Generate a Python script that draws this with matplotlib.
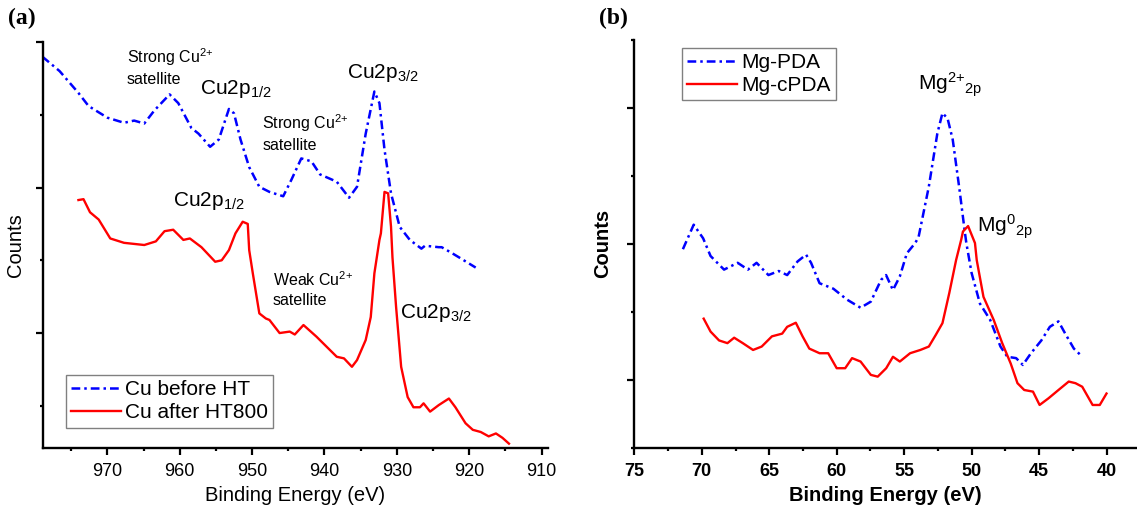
import matplotlib
matplotlib.use("Agg")
import matplotlib.pyplot as plt
from matplotlib.ticker import MultipleLocator, FixedLocator, NullFormatter

plt.rcParams['font.family'] = ['Liberation Sans', 'DejaVu Sans']
plt.rcParams['mathtext.fontset'] = 'custom'
plt.rcParams['mathtext.rm'] = 'Liberation Sans'
plt.rcParams['mathtext.it'] = 'Liberation Sans:italic'
plt.rcParams['mathtext.bf'] = 'Liberation Sans:bold'
plt.rcParams['mathtext.default'] = 'regular'

# (a) Cu 2p spectra, binding energy (eV) vs counts (arb.)
cu_before_x = [979.0, 976.6, 974.0, 972.6, 970.0, 967.7, 966.3, 964.9, 963.5, 961.4,
               960.2, 958.4, 957.4, 955.8, 954.6, 953.2, 952.5, 951.6, 950.4, 949.0,
               947.6, 945.7, 944.6, 943.2, 941.8, 940.6, 938.3, 936.6, 935.5, 934.3,
               933.1, 932.4, 931.7, 930.8, 929.6, 928.2, 926.6, 926.1, 924.2, 923.8,
               922.4, 921.4, 919.1]
cu_before_y = [2.90, 2.80, 2.65, 2.56, 2.48, 2.445, 2.46, 2.44, 2.53, 2.64,
               2.58, 2.41, 2.37, 2.28, 2.33, 2.54, 2.51, 2.33, 2.14, 2.005,
               1.97, 1.94, 2.05, 2.20, 2.18, 2.09, 2.04, 1.93, 2.005, 2.37,
               2.66, 2.58, 2.26, 1.96, 1.73, 1.64, 1.58, 1.60, 1.59, 1.59,
               1.55, 1.52, 1.45]

cu_after_x = [974.0, 973.3, 972.4, 971.2, 969.6, 967.7, 964.9, 963.3, 962.1, 960.9,
              959.5, 958.6, 957.4, 957.0, 955.1, 954.2, 953.2, 952.3, 951.3, 950.6,
              950.4, 949.9, 949.0, 948.1, 947.6, 946.2, 944.8, 944.1, 942.9, 941.1,
              939.7, 938.3, 937.3, 936.2, 935.5, 934.3, 933.6, 933.1, 932.4, 932.2,
              931.7, 931.2, 930.8, 930.6, 930.1, 929.4, 928.5, 927.7, 926.8, 926.3,
              925.4, 924.2, 922.8, 921.9, 920.5, 919.5, 918.4, 917.3, 916.3, 915.4,
              914.5]
cu_after_y = [1.914, 1.92, 1.83, 1.78, 1.65, 1.62, 1.605, 1.63, 1.70, 1.71,
              1.64, 1.65, 1.605, 1.59, 1.49, 1.50, 1.57, 1.685, 1.765, 1.75,
              1.57, 1.41, 1.135, 1.10, 1.09, 1.0, 1.01, 0.99, 1.055, 0.975,
              0.906, 0.837, 0.826, 0.768, 0.814, 0.952, 1.11, 1.41, 1.64, 1.685,
              1.97, 1.96, 1.73, 1.52, 1.18, 0.768, 0.56, 0.49, 0.49, 0.517,
              0.46, 0.505, 0.55, 0.49, 0.38, 0.335, 0.32, 0.29, 0.31, 0.28,
              0.24]

# (b) Mg 2p spectra
mg_pda_x = [71.4, 70.6, 69.9, 69.35, 68.35, 67.34, 66.58, 65.94, 65.06, 64.30,
            63.67, 62.9, 62.27, 61.9, 61.27, 60.25, 59.24, 58.23, 57.47, 56.71,
            56.34, 55.83, 55.32, 54.8, 54.18, 53.93, 53.17, 52.54, 52.16, 51.78,
            51.4, 50.9, 50.52, 50.39, 50.0, 49.38, 48.62, 47.86, 47.35, 46.7,
            46.2, 45.6, 44.83, 44.2, 43.56, 43.06, 42.42, 41.79]
mg_pda_y = [1.96, 2.14, 2.04, 1.91, 1.81, 1.86, 1.81, 1.86, 1.77, 1.80,
            1.77, 1.87, 1.92, 1.86, 1.71, 1.67, 1.59, 1.53, 1.575, 1.735,
            1.77, 1.66, 1.76, 1.93, 2.005, 2.05, 2.42, 2.81, 2.96, 2.92,
            2.765, 2.40, 2.10, 2.005, 1.785, 1.56, 1.44, 1.245, 1.17, 1.16,
            1.11, 1.196, 1.29, 1.39, 1.43, 1.34, 1.23, 1.17]

mg_cpda_x = [69.86, 69.35, 68.72, 68.1, 67.6, 66.96, 66.2, 65.56, 64.8, 64.04,
             63.67, 63.03, 62.53, 62.03, 61.27, 60.63, 60.0, 59.37, 58.86, 58.23,
             57.47, 56.96, 56.33, 55.83, 55.32, 54.56, 53.8, 53.17, 52.66, 52.16,
             51.65, 51.15, 50.77, 50.64, 50.26, 49.75, 49.62, 49.12, 48.36, 47.73,
             47.1, 46.6, 46.1, 45.45, 44.96, 44.3, 43.56, 42.8, 42.3, 41.8,
             41.03, 40.5, 40.0]
mg_cpda_y = [1.45, 1.355, 1.29, 1.27, 1.31, 1.27, 1.22, 1.245, 1.32, 1.34,
             1.39, 1.42, 1.32, 1.23, 1.196, 1.196, 1.086, 1.086, 1.16, 1.135,
             1.037, 1.024, 1.086, 1.17, 1.135, 1.196, 1.22, 1.245, 1.33, 1.417,
             1.64, 1.88, 2.03, 2.09, 2.13, 2.005, 1.88, 1.61, 1.44, 1.27,
             1.12, 0.976, 0.926, 0.914, 0.816, 0.865, 0.926, 0.988, 0.976, 0.95,
             0.816, 0.816, 0.90]

blue = '#0000ff'
red = '#ff0000'
dashdot = (0, (3.5, 1.6, 1.0, 1.6))

fig = plt.figure(figsize=(11.37, 5.13), dpi=100)
ax1 = fig.add_axes([0.0378, 0.1267, 0.4442, 0.7914])
ax2 = fig.add_axes([0.5579, 0.1267, 0.4421, 0.7963])


def style_axes(ax, bold):
    for s in ['top', 'right']:
        ax.spines[s].set_visible(False)
    for s in ['left', 'bottom']:
        ax.spines[s].set_linewidth(1.7)
    ax.tick_params(which='major', direction='out', length=5, width=1.6, pad=6,
                   labelsize=13)
    ax.tick_params(which='minor', direction='out', length=2.5, width=1.6)
    ax.yaxis.set_major_formatter(NullFormatter())
    if bold:
        for lab in ax.get_xticklabels():
            lab.set_fontweight('bold')


leg_kw = dict(fontsize=15, frameon=True, fancybox=False, edgecolor='#808080',
              framealpha=1, handlelength=2.4, handletextpad=0.2, borderpad=0.25,
              labelspacing=0.2, borderaxespad=0)

# ---- panel (a)
ax1.plot(cu_before_x, cu_before_y, color=blue, lw=1.8, linestyle=dashdot, label='Cu before HT')
ax1.plot(cu_after_x, cu_after_y, color=red, lw=1.7, label='Cu after HT800')
ax1.set_xlim(978.9, 909.1)
ax1.set_ylim(0.21, 3.0)
ax1.xaxis.set_major_locator(MultipleLocator(10))
ax1.xaxis.set_minor_locator(MultipleLocator(5))
ax1.yaxis.set_major_locator(FixedLocator([1, 2, 3]))
ax1.yaxis.set_minor_locator(FixedLocator([0.5, 1.5, 2.5]))
style_axes(ax1, False)
ax1.set_xlabel('Binding Energy (eV)', fontsize=14.5, labelpad=4)
ax1.set_ylabel('Counts', fontsize=14.5)
ax1.yaxis.set_label_coords(-0.036, 0.5)
ax1.legend(loc='lower left', bbox_to_anchor=(0.045, 0.05), **leg_kw)

txt = dict(fontsize=11.5, ha='left', va='top', linespacing=1.35)
pk = dict(fontsize=15, ha='left', va='top')
ax1.text(967.3, 2.97, 'Strong Cu$^{2{+}}$\nsatellite', **txt)
ax1.text(957.2, 2.75, 'Cu2p$_{1/2}$', **pk)
ax1.text(948.6, 2.52, 'Strong Cu$^{2{+}}$\nsatellite', **txt)
ax1.text(936.9, 2.86, 'Cu2p$_{3/2}$', **pk)
ax1.text(960.9, 1.98, 'Cu2p$_{1/2}$', **pk)
ax1.text(947.1, 1.43, 'Weak Cu$^{2{+}}$\nsatellite', **txt)
ax1.text(929.6, 1.21, 'Cu2p$_{3/2}$', **pk)

# ---- panel (b)
ax2.plot(mg_pda_x, mg_pda_y, color=blue, lw=1.8, linestyle=dashdot, label='Mg-PDA')
ax2.plot(mg_cpda_x, mg_cpda_y, color=red, lw=1.7, label='Mg-cPDA')
ax2.set_xlim(75, 37.74)
ax2.set_ylim(0.5, 3.5)
ax2.xaxis.set_major_locator(MultipleLocator(5))
ax2.xaxis.set_minor_locator(MultipleLocator(2.5))
ax2.yaxis.set_major_locator(FixedLocator([1, 2, 3]))
ax2.yaxis.set_minor_locator(FixedLocator([0.5, 1.5, 2.5, 3.5]))
style_axes(ax2, True)
ax2.set_xlabel('Binding Energy (eV)', fontsize=14.5, fontweight='bold', labelpad=4)
ax2.set_ylabel('Counts', fontsize=14.5, fontweight='bold')
ax2.yaxis.set_label_coords(-0.044, 0.5)
ax2.legend(loc='upper left', bbox_to_anchor=(0.095, 0.98), **leg_kw)
ax2.text(53.97, 3.27, 'Mg$^{2{+}}$$_{2p}$', **pk)
ax2.text(49.61, 2.23, 'Mg$^{0}$$_{2p}$', **pk)

fig.text(0.007, 0.965, '(a)', family='Liberation Serif', fontweight='bold', fontsize=17, va='center')
fig.text(0.527, 0.965, '(b)', family='Liberation Serif', fontweight='bold', fontsize=17, va='center')

fig.savefig('out.png', dpi=100)
